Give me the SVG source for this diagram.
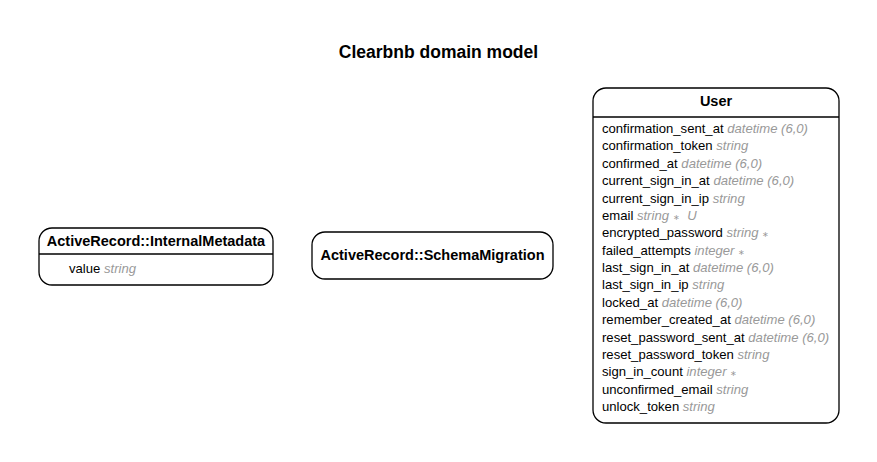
<svg xmlns="http://www.w3.org/2000/svg" width="877" height="462" viewBox="0 0 877 462">
<style>
.box{fill:#fff;stroke:#000;stroke-width:1.3}
.sep{stroke:#000;stroke-width:1.3}
.t{font-family:"Liberation Sans",Arial,sans-serif}
.title{font-size:17.5px;font-weight:bold;text-anchor:middle}
.hd{font-size:14.5px;font-weight:bold;text-anchor:middle}
.row{font-size:13.1px;fill:#000}
.ty{fill:#999;font-style:italic}
.nn{font-size:8px;font-style:normal}
</style>
<rect width="877" height="462" fill="#fff"/>
<text class="t title" x="438.5" y="58">Clearbnb domain model</text>
<g id="connectors"></g>
<g id="node-internal-metadata">
<rect class="box" x="39" y="228" width="234" height="57" rx="13"/>
<line class="sep" x1="39" y1="254" x2="273" y2="254"/>
<text class="t hd" x="156" y="246">ActiveRecord::InternalMetadata</text>
<text class="t row" x="69" y="273">value <tspan class="ty">string</tspan></text>
</g>
<g id="node-schema-migration">
<rect class="box" x="312" y="232" width="241" height="47" rx="13"/>
<text class="t hd" x="432.5" y="260">ActiveRecord::SchemaMigration</text>
</g>
<g id="node-user">
<rect class="box" x="593" y="88" width="246" height="335" rx="13"/>
<line class="sep" x1="593" y1="117" x2="839" y2="117"/>
<text class="t hd" x="716" y="106">User</text>
<text class="t row" x="602" y="133">confirmation_sent_at <tspan class="ty">datetime (6,0)</tspan></text>
<text class="t row" x="602" y="150.4">confirmation_token <tspan class="ty">string</tspan></text>
<text class="t row" x="602" y="167.8">confirmed_at <tspan class="ty">datetime (6,0)</tspan></text>
<text class="t row" x="602" y="185.1">current_sign_in_at <tspan class="ty">datetime (6,0)</tspan></text>
<text class="t row" x="602" y="202.5">current_sign_in_ip <tspan class="ty">string</tspan></text>
<text class="t row" x="602" y="219.9">email <tspan class="ty">string <tspan class="nn">∗</tspan> <tspan dx="4">U</tspan></tspan></text>
<text class="t row" x="602" y="237.3">encrypted_password <tspan class="ty">string <tspan class="nn">∗</tspan></tspan></text>
<text class="t row" x="602" y="254.6">failed_attempts <tspan class="ty">integer <tspan class="nn">∗</tspan></tspan></text>
<text class="t row" x="602" y="272">last_sign_in_at <tspan class="ty">datetime (6,0)</tspan></text>
<text class="t row" x="602" y="289.4">last_sign_in_ip <tspan class="ty">string</tspan></text>
<text class="t row" x="602" y="306.8">locked_at <tspan class="ty">datetime (6,0)</tspan></text>
<text class="t row" x="602" y="324.1">remember_created_at <tspan class="ty">datetime (6,0)</tspan></text>
<text class="t row" x="602" y="341.5">reset_password_sent_at <tspan class="ty">datetime (6,0)</tspan></text>
<text class="t row" x="602" y="358.9">reset_password_token <tspan class="ty">string</tspan></text>
<text class="t row" x="602" y="376.3">sign_in_count <tspan class="ty">integer <tspan class="nn">∗</tspan></tspan></text>
<text class="t row" x="602" y="393.6">unconfirmed_email <tspan class="ty">string</tspan></text>
<text class="t row" x="602" y="411">unlock_token <tspan class="ty">string</tspan></text>
</g>
</svg>
